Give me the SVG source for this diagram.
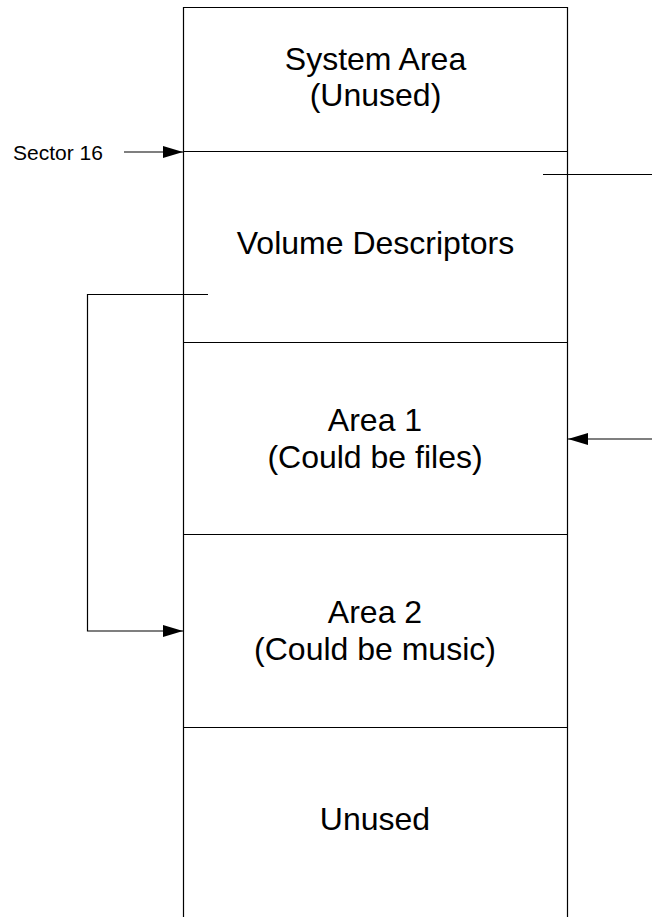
<svg xmlns="http://www.w3.org/2000/svg" width="652" height="917" viewBox="0 0 652 917">
<style>
.ln{stroke:#000;stroke-width:1.2;fill:none}
.big{font-family:"Liberation Sans",Arial,sans-serif;font-size:32px;fill:#000;text-anchor:middle}
.sm{font-family:"Liberation Sans",Arial,sans-serif;font-size:21px;fill:#000}
</style>
<defs>
<marker id="ah" markerWidth="20" markerHeight="12" refX="20" refY="6" orient="auto" markerUnits="userSpaceOnUse">
<path d="M0,0 L20,6 L0,12 Z" fill="#000"/>
</marker>
</defs>
<rect width="652" height="917" fill="#fff"/>
<g id="sys-area"><path class="ln" d="M183.5,7.5 H567.5"/><text class="big" x="375.5" y="70">System Area</text><text class="big" x="375.5" y="106">(Unused)</text></g>
<g id="vol-desc"><path class="ln" d="M183.5,151.5 H567.5"/><text class="big" x="375.5" y="254">Volume Descriptors</text></g>
<g id="area1"><path class="ln" d="M183.5,342.5 H567.5"/><text class="big" x="375" y="431">Area 1</text><text class="big" x="375" y="468">(Could be files)</text></g>
<g id="area2"><path class="ln" d="M183.5,534.5 H567.5"/><text class="big" x="375" y="623">Area 2</text><text class="big" x="375" y="660">(Could be music)</text></g>
<g id="unused"><path class="ln" d="M183.5,727.5 H567.5"/><text class="big" x="375" y="830">Unused</text></g>
<g id="walls"><path class="ln" d="M183.5,7 V917 M567.5,7 V917"/></g>
<g id="sector16"><text class="sm" x="13" y="160">Sector 16</text></g>
<g id="connectors">
<path class="ln" d="M124,152 H183" marker-end="url(#ah)"/>
<path class="ln" d="M543,174.5 H652"/>
<path class="ln" d="M652,439 H568" marker-end="url(#ah)"/>
<path class="ln" d="M208,294.5 H87.5 V631 H183" marker-end="url(#ah)"/>
</g>
</svg>
